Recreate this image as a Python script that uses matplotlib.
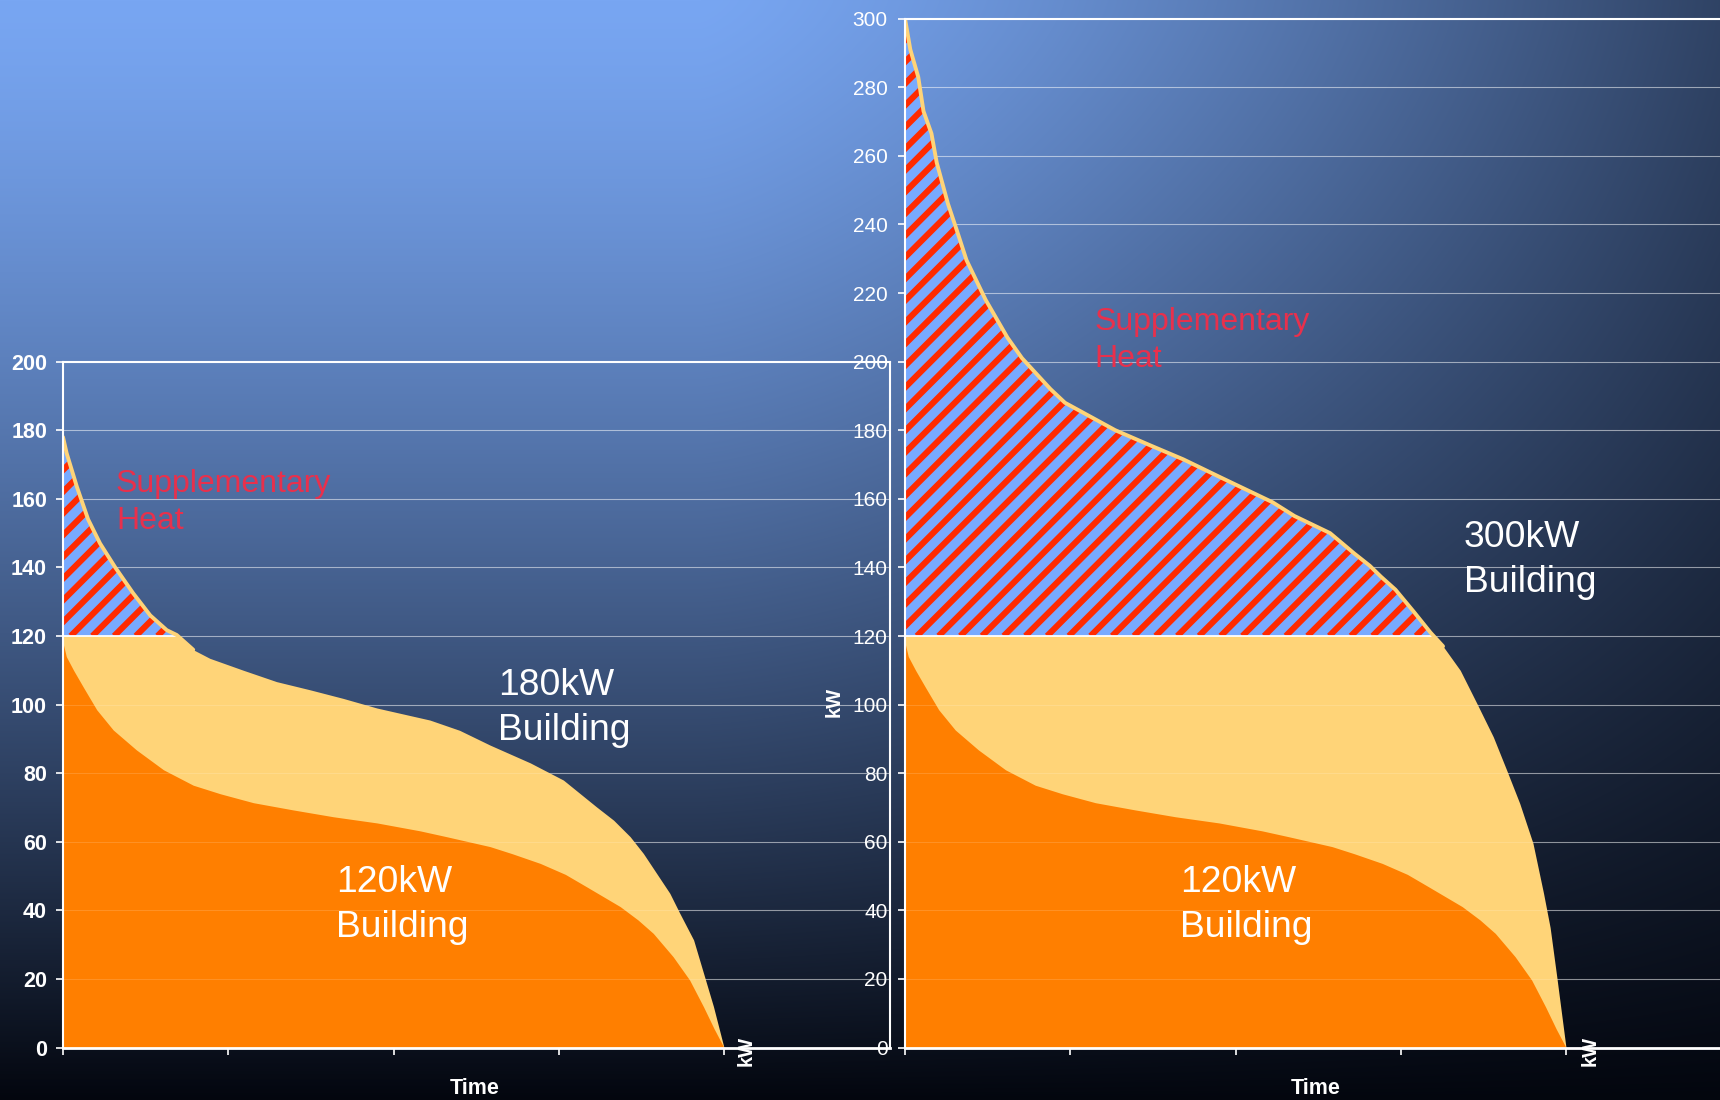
import numpy as np
import matplotlib
matplotlib.use("Agg")
import matplotlib.pyplot as plt
from matplotlib.collections import LineCollection

plt.rcParams['font.family'] = ['Liberation Sans', 'DejaVu Sans']

# ---------------- data ----------------
# Load-duration curve of the 120 kW building (time as % of the season, kW)
base_x = [0, 0.5, 1.6, 3.1, 5.1, 7.6, 11.1, 15.2, 19.7, 23.8, 28.8, 34.8, 40.9,
          47.5, 54, 58, 64.6, 68, 72.2, 76, 79.2, 84.3, 87, 89.3, 92.3, 94.8,
          96.9, 98.5, 100]
base_kw = [118, 114, 110, 105, 98.5, 92.6, 86.8, 81, 76.5, 74, 71.4, 69.3, 67.3,
           65.5, 63.2, 61.5, 58.6, 56.5, 53.7, 50.5, 46.9, 41.1, 37.2, 33.3, 26.5,
           19.7, 11.9, 5.5, 0]

# Load-duration curve of the 180 kW building
mid_x = [0, 0.55, 2.1, 3.8, 5.6, 7.9, 10.6, 13.2, 15.7, 17.2, 19.7, 22.2, 27.3,
         32.3, 37.4, 42.4, 47.5, 55.5, 60, 64.6, 70.7, 75.7, 80.7, 83.3, 85.8,
         87.8, 89.8, 91.8, 93.3, 95.4, 96.9, 98.4, 100]
mid_kw = [178, 173.3, 163.5, 154, 147, 140, 132.5, 126, 121.7, 120.3, 116, 113.5,
          110, 106.7, 104.3, 101.8, 99, 95.5, 92.5, 88.2, 83, 78, 70.2, 66.3, 61.5,
          56.6, 50.8, 45, 39.2, 31.4, 21.7, 12, 0]

# Load-duration curve of the 300 kW building
big_x = [0, 0.8, 2.0, 2.8, 4.0, 4.8, 6.5, 7.8, 9.3, 12.2, 15.5, 17.7, 22.0, 24.2,
         28.0, 31.8, 37.2, 42.1, 48.0, 55.6, 58.9, 64.3, 68, 70.3, 72, 74.2, 77,
         79.5, 81.4, 84, 86.5, 89, 91, 93, 95, 96.6, 97.6, 98.6, 100]
big_kw = [300, 291, 283, 273, 266.5, 258, 246, 238.5, 229.6, 218, 207, 201, 192,
          188, 184, 180, 175.5, 171.5, 166, 159, 155, 150, 144, 140.5, 137.3, 133.5,
          127, 121, 117, 110, 100.4, 90.6, 81, 71.2, 59.6, 45, 35, 20.7, 0]

heat_pump_kw = 120
x_ticks = [0, 25, 50, 75, 100]
left_yticks = list(range(0, 201, 20))
right_yticks = list(range(0, 301, 20))

# ---------------- style ----------------
ORANGE = '#ff7f00'
YELLOW = '#ffd478'
HATCH_BLUE = '#78aaff'
HATCH_RED = '#ff2a00'
LABEL_RED = '#e8304c'

W, H = 1720, 1100
fig = plt.figure(figsize=(W / 100, H / 100), dpi=100)

# gradient backdrop: bright blue top-left fading to navy/black
bg = fig.add_axes([0, 0, 1, 1], zorder=-10)
bg.axis('off')
yy, xx = np.mgrid[0:H, 0:W]
v = 1 - (yy / H) ** 1.3
h = 1 - 0.62 * np.clip((xx - 700) / 1020, 0, 1) ** 1.3
t = (v * h)[..., None]
light = np.array([120, 166, 242]) / 255
dark = np.array([3, 6, 14]) / 255
bg.imshow(dark + (light - dark) * t, extent=[0, 1, 0, 1], aspect='auto',
          origin='upper', interpolation='bilinear')
bg.set_xlim(0, 1)
bg.set_ylim(0, 1)

PX_X = 6.61  # pixels per time unit on both charts


def make_axes(left_px, right_px, ymax):
    height_px = ymax * 3.43
    ax = fig.add_axes([left_px / W, 52.4 / H, (right_px - left_px) / W, height_px / H])
    ax.set_xlim(0, (right_px - left_px) / PX_X)
    ax.set_ylim(0, ymax)
    ax.patch.set_alpha(0)
    return ax


def draw_panel(ax, top_x, top_kw, yticks, bold_ticks, right_spine):
    top_x = np.asarray(top_x, float)
    top_kw = np.asarray(top_kw, float)
    ymax = ax.get_ylim()[1]

    ax.fill_between(top_x, 0, top_kw, color=YELLOW, lw=0, zorder=2)
    ax.fill_between(base_x, 0, base_kw, color=ORANGE, lw=0, zorder=2.2)

    # faint grid over the filled areas
    ax.hlines([y for y in yticks if 0 < y < ymax], 0, ax.get_xlim()[1],
              color='white', alpha=0.15, lw=0.7, zorder=2.4)

    above = top_kw >= heat_pump_kw
    region = ax.fill_between(top_x, heat_pump_kw, top_kw, where=above,
                             interpolate=True, facecolor=HATCH_BLUE, lw=0, zorder=3)

    # diagonal red stripes clipped to the supplementary-heat region
    sx = ax.bbox.width / ax.get_xlim()[1]
    sy = ax.bbox.height / ymax
    step = 21.7 / sx
    run = (ymax - heat_pump_kw) * sy / sx
    segs = [[(c, heat_pump_kw), (c + run, ymax)] for c in np.arange(-run, 130, step)]
    lc = LineCollection(segs, colors=HATCH_RED, linewidths=4.4, capstyle='butt', zorder=3.2)
    lc.set_clip_path(region.get_paths()[0], ax.transData)
    ax.add_collection(lc)

    ax.fill_between(top_x, heat_pump_kw, top_kw, where=above, interpolate=True,
                    facecolor='none', edgecolor='white', lw=1.3, zorder=3.4)
    cut = int(np.nonzero(~above)[0][0])
    ax.plot(top_x[:cut + 1], top_kw[:cut + 1], color=YELLOW, lw=2.8,
            solid_capstyle='round', zorder=3.6)

    ax.set_yticks(yticks)
    ax.set_xticks(x_ticks)
    ax.yaxis.grid(True, color='white', alpha=0.45, lw=0.8)
    ax.set_axisbelow(True)
    ax.tick_params(axis='x', direction='out', length=5, width=1.2, colors='white',
                   labelbottom=False)
    ax.tick_params(axis='y', direction='out', length=5, width=1.2, colors='white',
                   labelsize=15.5 if bold_ticks else 15, pad=6.5 if bold_ticks else 7.5)
    for lbl in ax.get_yticklabels():
        lbl.set_fontweight('bold' if bold_ticks else 'normal')

    for side, sp in ax.spines.items():
        sp.set_color('white')
        sp.set_zorder(10)
        sp.set_linewidth(2.0 if side == 'bottom' else 1.5)
    ax.spines['right'].set_visible(right_spine)
    ax.set_xlim(0, ax.get_xlim()[1])
    ax.set_ylim(0, ymax)


axL = make_axes(63, 890, 200)
axR = make_axes(905, W, 300)
draw_panel(axL, mid_x, mid_kw, left_yticks, True, True)
draw_panel(axR, big_x, big_kw, right_yticks, False, False)

# labels are anchored on the baseline of their second line
label_kw = dict(fontsize=26.8, color='white', va='baseline', ha='left',
                linespacing=1.38, zorder=8)
heat_kw = dict(fontsize=23, color=LABEL_RED, va='baseline', ha='left',
               linespacing=1.32, zorder=8)

axL.text(8.0, 151.2, 'Supplementary\nHeat', **heat_kw)
axL.text(65.8, 89.7, '180kW\nBuilding', **label_kw)
axL.text(41.3, 32.1, '120kW\nBuilding', **label_kw)

axR.text(28.7, 198.4, 'Supplementary\nHeat', **heat_kw)
axR.text(41.6, 32.1, '120kW\nBuilding', **label_kw)
axR.text(84.5, 132.8, '300kW\nBuilding', **label_kw)

# axis titles
for cx in (475, 1316):
    fig.text(cx / W, 1 - 1088 / H, 'Time', ha='center', va='center',
             fontsize=15.5, fontweight='bold', color='white')
for cx in (746, 1590):
    fig.text(cx / W, 1 - 1051 / H, 'kW', ha='center', va='center', rotation=90,
             fontsize=14.5, fontweight='bold', color='white')
fig.text(834 / W, 1 - 702 / H, 'kW', ha='center', va='center', rotation=90,
         fontsize=14.5, fontweight='bold', color='white')

fig.savefig('out.png', dpi=100)
